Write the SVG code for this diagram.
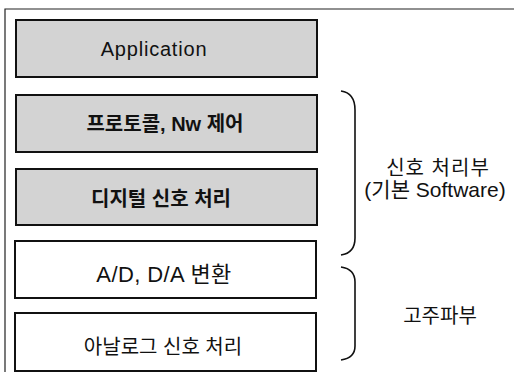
<svg xmlns="http://www.w3.org/2000/svg" width="514" height="382" viewBox="0 0 514 382">
<style>
.box{stroke:#111;stroke-width:2;}
.sw{fill:#d3d3d3;}
.hw{fill:#fff;}
.t{font-family:"Liberation Sans","Noto Sans CJK KR",sans-serif;font-size:20px;fill:#111;text-anchor:middle;}
.b{font-weight:bold;}
.br{fill:none;stroke:#111;stroke-width:1.6;}
</style>
<rect width="514" height="382" fill="#fff"/>
<path d="M5,372 V9 H514" fill="none" stroke="#222" stroke-width="1.2"/>
<g id="app"><rect class="box sw" x="16" y="20" width="301" height="57"/><text class="t" x="154" y="56" style="letter-spacing:0.8px">Application</text></g>
<g id="protocol"><rect class="box sw" x="16" y="95" width="301" height="57"/><text class="t b" x="165" y="131">프로토콜, Nw 제어</text></g>
<g id="digital"><rect class="box sw" x="16" y="169" width="301" height="56"/><text class="t b" x="161" y="206">디지털 신호 처리</text></g>
<g id="adda"><rect class="box hw" x="15" y="241" width="301" height="57"/><text class="t" x="164" y="282" style="font-size:22px;letter-spacing:0.4px">A/D, D/A 변환</text></g>
<g id="analog"><rect class="box hw" x="15" y="313" width="301" height="58"/><text class="t" x="163" y="354">아날로그 신호 처리</text></g>
<g id="connectors">
<path class="br" d="M341,91 Q355,93 355,110 V238 Q355,253 341,255"/>
<path class="br" d="M341,267 Q355,269 355,282 V346 Q355,358 341,360"/>
</g>
<g id="labels">
<text class="t" x="438" y="175" style="letter-spacing:1px">신호 처리부</text>
<text class="t" x="435" y="197" style="font-size:21px">(기본 Software)</text>
<text class="t" x="440" y="323">고주파부</text>
</g>
</svg>
